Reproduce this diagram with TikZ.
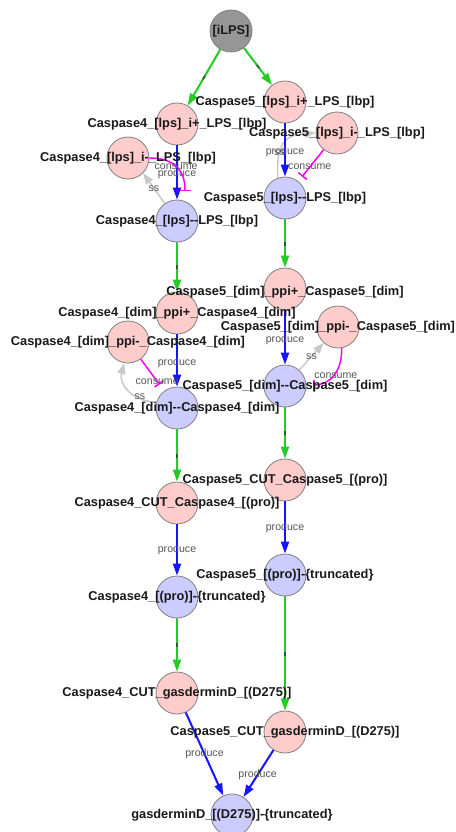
\documentclass[tikz,border=0pt]{standalone}
\usepackage{fontspec}
\newfontfamily\lblfont{Liberation Sans}
\usetikzlibrary{arrows.meta,decorations.markings}

\definecolor{nodepink}{RGB}{255,204,204}
\definecolor{nodeblue}{RGB}{204,204,255}
\definecolor{nodegray}{RGB}{150,150,150}
\definecolor{nodeedge}{RGB}{128,128,128}
\definecolor{edgegreen}{RGB}{34,204,34}
\definecolor{edgeblue}{RGB}{20,20,255}
\definecolor{edgemag}{RGB}{255,0,255}
\definecolor{edgess}{RGB}{200,200,200}
\definecolor{arctextcol}{RGB}{85,85,85}
\definecolor{markcol}{RGB}{45,90,45}

\begin{document}
\begin{tikzpicture}[x=1pt,y=-1pt,
  spnode/.style={circle, draw=nodeedge, line width=0.8pt, minimum size=42pt,
    inner sep=0pt, fill=nodeblue},
  rxnode/.style={spnode, fill=nodepink},
  srcnode/.style={spnode, fill=nodegray},
  nodetext/.style={font=\lblfont\bfseries\fontsize{12.8}{14}\selectfont,
    text=black!90, inner sep=0pt},
  arctext/.style={font=\lblfont\fontsize{10.6}{12}\selectfont,
    text=arctextcol, inner sep=0pt},
  tipshape/.style={-{Triangle[length=12pt,width=8pt]}},
  greenarc/.style={edgegreen, line width=2pt, tipshape,
    postaction={decorate, decoration={markings,
      mark=at position 0.5 with {\draw[markcol, line width=1.6pt, -] (-2pt,0) -- (2pt,0);}}}},
  bluearc/.style={edgeblue, line width=2pt, tipshape},
  magarc/.style={edgemag, line width=1.5pt, -{Bar[width=11pt,line width=1.5pt]}},
  grayarc/.style={edgess, line width=1.5pt, -{Triangle[length=11pt,width=8pt]}},
]
\fill[white] (0,0) rectangle (455,832);
\useasboundingbox (0,0) rectangle (455,832);

% ---- circles ----
\node[srcnode] (ilps) at (231,31) {};
\node[rxnode] (a4) at (177,124) {};
\node[rxnode] (a5) at (285,102) {};
\node[rxnode] (b4) at (128,158) {};
\node[rxnode] (b5) at (337,133) {};
\node[spnode] (c4) at (177,221) {};
\node[spnode] (c5) at (285,198) {};
\node[rxnode] (d4) at (177,313) {};
\node[rxnode] (d5) at (285,289) {};
\node[rxnode] (e4) at (128,342) {};
\node[rxnode] (e5) at (338,327) {};
\node[spnode] (f4) at (177,408) {};
\node[spnode] (f5) at (285,386) {};
\node[rxnode] (g4) at (177,503) {};
\node[rxnode] (g5) at (285,480) {};
\node[spnode] (h4) at (177,597) {};
\node[spnode] (h5) at (285,575) {};
\node[rxnode] (i4) at (177,693) {};
\node[rxnode] (i5) at (285,732) {};
\node[spnode] (j) at (232,815) {};

% ---- connectors ----
\draw[greenarc] (ilps) -- (a4);
\draw[greenarc] (ilps) -- (a5);

% LPS binding, Caspase4
\draw[bluearc] (a4) -- node[arctext, pos=.53] (p1) {produce} (c4);
\draw[grayarc] (c4.125) -- node[arctext, pos=.5] (s1) {ss} (b4.-45);
\draw[magarc] (b4.east) .. controls (168,158) and (185,165) .. (185,191)
  node[arctext, pos=.55] (k1) {consume};

% LPS binding, Caspase5
\draw[grayarc] (c5.110) .. controls (276,142) and (286,135) .. (b5.west)
  node[arctext, pos=.3] (s2) {ss};
\draw[bluearc] (a5) -- node[arctext, pos=.53] (p2) {produce} (c5);
\draw[magarc, shorten >=6pt] (b5) -- node[arctext, pos=.55] (k2) {consume} (c5);

\draw[greenarc] (c4) -- (d4);
\draw[greenarc] (c5) -- (d5);

% dimerisation, Caspase4
\draw[bluearc] (d4) -- node[arctext, pos=.54] (p3) {produce} (f4);
\draw[magarc, shorten >=8pt] (e4) -- node[arctext, pos=.7] (k3) {consume} (f4);
\draw[grayarc] (f4.165) .. controls (128,400) and (119,382) .. (e4.-100)
  node[arctext, pos=.3, xshift=4pt] (s3) {ss};

% dimerisation, Caspase5
\draw[bluearc] (d5) -- node[arctext, pos=.54] (p4) {produce} (f5);
\draw[grayarc] (f5) -- node[arctext, pos=.5] (s4) {ss} (e5);
\draw[magarc] (e5.-80) .. controls (342,372) and (330,385) .. (313,385)
  node[arctext, pos=.5, xshift=2pt] (k4) {consume};

\draw[greenarc] (f4) -- (g4);
\draw[greenarc] (f5) -- (g5);

% cleavage of the pro-domain
\draw[bluearc] (g4) -- node[arctext, pos=.5] (p5) {produce} (h4);
\draw[bluearc] (g5) -- node[arctext, pos=.51] (p6) {produce} (h5);

\draw[greenarc] (h4) -- (i4);
\draw[greenarc] (h5) -- (i5);

% cleavage of gasdermin D
\draw[bluearc] (i4) -- node[arctext, pos=.5] (p7) {produce} (j);
\draw[bluearc] (i5) -- node[arctext, pos=.53] (p8) {produce} (j);

% ---- names ----
\node[nodetext] (t-ilps) at (ilps) {[iLPS]};
\node[nodetext] (t-a4) at (a4) {Caspase4\_[lps]\_i+\_LPS\_[lbp]};
\node[nodetext] (t-a5) at (a5) {Caspase5\_[lps]\_i+\_LPS\_[lbp]};
\node[nodetext] (t-b4) at (b4) {Caspase4\_[lps]\_i-\_LPS\_[lbp]};
\node[nodetext] (t-b5) at (b5) {Caspase5\_[lps]\_i-\_LPS\_[lbp]};
\node[nodetext] (t-c4) at (c4) {Caspase4\_[lps]-{}-LPS\_[lbp]};
\node[nodetext] (t-c5) at (c5) {Caspase5\_[lps]-{}-LPS\_[lbp]};
\node[nodetext] (t-d4) at (d4) {Caspase4\_[dim]\_ppi+\_Caspase4\_[dim]};
\node[nodetext] (t-d5) at (285,292) {Caspase5\_[dim]\_ppi+\_Caspase5\_[dim]};
\node[nodetext] (t-e4) at (e4) {Caspase4\_[dim]\_ppi-\_Caspase4\_[dim]};
\node[nodetext] (t-e5) at (e5) {Caspase5\_[dim]\_ppi-\_Caspase5\_[dim]};
\node[nodetext] (t-f4) at (f4) {Caspase4\_[dim]-{}-Caspase4\_[dim]};
\node[nodetext] (t-f5) at (f5) {Caspase5\_[dim]-{}-Caspase5\_[dim]};
\node[nodetext] (t-g4) at (g4) {Caspase4\_CUT\_Caspase4\_[(pro)]};
\node[nodetext] (t-g5) at (g5) {Caspase5\_CUT\_Caspase5\_[(pro)]};
\node[nodetext] (t-h4) at (h4) {Caspase4\_[(pro)]-\{truncated\}};
\node[nodetext] (t-h5) at (h5) {Caspase5\_[(pro)]-\{truncated\}};
\node[nodetext] (t-i4) at (i4) {Caspase4\_CUT\_gasderminD\_[(D275)]};
\node[nodetext] (t-i5) at (i5) {Caspase5\_CUT\_gasderminD\_[(D275)]};
\node[nodetext] (t-j) at (j) {gasderminD\_[(D275)]-\{truncated\}};
\end{tikzpicture}
\end{document}
